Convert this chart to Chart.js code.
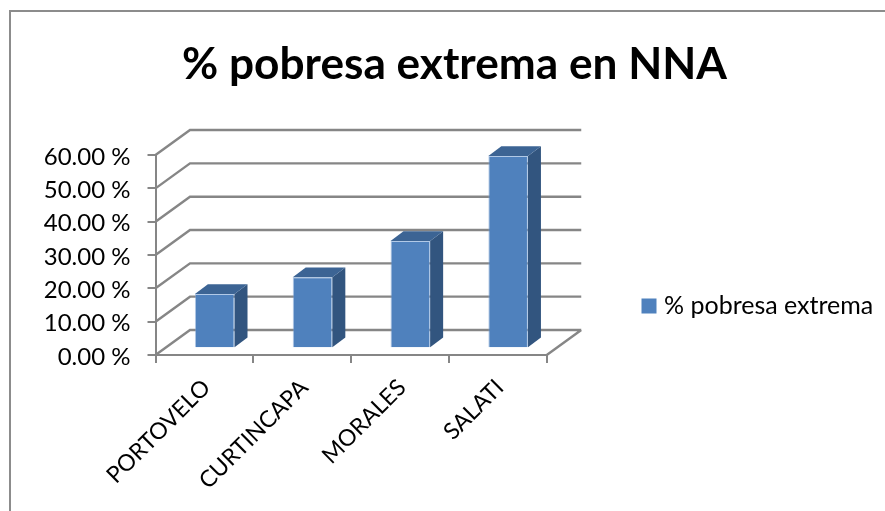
<!DOCTYPE html>
<html><head><meta charset="utf-8">
<style>html,body{margin:0;padding:0;background:#fff}canvas{display:block}</style>
<script src="https://cdn.jsdelivr.net/npm/chart.js@4"></script>
</head><body><canvas id="c" width="885" height="511"></canvas>
<script>
const categories = ["PORTOVELO", "CURTINCAPA", "MORALES", "SALATI"];
const seriesName = "% pobresa extrema";
const seriesValues = [16.3, 21.3, 32.2, 57.7];
const chartTitle = "% pobresa extrema en NNA";
const yMin = 0, yMax = 60, yStep = 10;

const GRID = "#868686";
const DEPTH = {x: 34.5, y: -25};
const BAR_SHIFT = {x: 10.3, y: -6.7};
const BAR_DEPTH = {x: 13, y: -9.7};

const scene3d = {
  id: "scene3d",
  beforeDraw(chart) {
    const c = chart.ctx;
    c.save();
    c.fillStyle = "#fff"; c.fillRect(0, 0, chart.width, chart.height);
    c.strokeStyle = "#8c8c8c"; c.lineWidth = 2;
    c.beginPath(); c.moveTo(10, chart.height); c.lineTo(10, 11); c.lineTo(chart.width, 11); c.stroke();
    c.restore();
  },
  afterLayout(chart) {
    const l = chart.legend;
    l.top = 283.5; l.bottom = l.top + 60;
    l.left = 636.5; l.right = chart.width;
    l.adjustHitBoxes();
    chart.titleBlock.left = 24; chart.titleBlock.right = chart.width;
  },
  beforeDatasetsDraw(chart) {
    const c = chart.ctx, xs = chart.scales.x, ys = chart.scales.y;
    const L = xs.left, R = xs.right, B = ys.bottom;
    c.save();
    c.strokeStyle = GRID; c.lineWidth = 2.4; c.lineCap = "butt";
    c.beginPath();
    ys.ticks.forEach(t => {
      const y = ys.getPixelForValue(t.value);
      c.moveTo(L, y); c.lineTo(L + DEPTH.x, y + DEPTH.y); c.lineTo(R + DEPTH.x, y + DEPTH.y);
    });
    c.moveTo(R, B); c.lineTo(R + DEPTH.x, B + DEPTH.y);
    c.stroke();
    const els = chart.getDatasetMeta(0).data;
    c.translate(BAR_SHIFT.x, BAR_SHIFT.y);
    els.forEach(e => {
      const l = e.x - e.width / 2, r = e.x + e.width / 2, t = e.y, b = e.base;
      c.fillStyle = "#32557F";
      c.beginPath(); c.moveTo(r, t); c.lineTo(r + BAR_DEPTH.x, t + BAR_DEPTH.y);
      c.lineTo(r + BAR_DEPTH.x, b + BAR_DEPTH.y); c.lineTo(r, b); c.closePath(); c.fill();
      c.fillStyle = "#3C6494";
      c.beginPath(); c.moveTo(l, t); c.lineTo(l + BAR_DEPTH.x, t + BAR_DEPTH.y);
      c.lineTo(r + BAR_DEPTH.x, t + BAR_DEPTH.y); c.lineTo(r, t); c.closePath(); c.fill();
    });
  },
  afterDatasetsDraw(chart) { chart.ctx.restore(); }
};

new Chart(document.getElementById("c"), {
  type: "bar",
  data: {
    labels: categories,
    datasets: [{
      label: seriesName,
      data: seriesValues,
      backgroundColor: "#4F81BD",
      borderColor: "rgba(125,165,215,0.6)",
      borderWidth: 1,
      categoryPercentage: 1,
      barPercentage: 0.405
    }]
  },
  plugins: [scene3d],
  options: {
    responsive: false,
    animation: false,
    events: [],
    layout: {padding: {left: 0, top: 38, right: 156, bottom: 0}},
    plugins: {
      tooltip: {enabled: false},
      title: {
        display: true, text: chartTitle, color: "#000",
        font: {family: "Lato", size: 44.2, weight: "bold"},
        padding: {top: 0, bottom: 64}
      },
      legend: {
        display: true, position: "right", align: "start",
        labels: {color: "#000", boxWidth: 5, boxHeight: 5, padding: 10,
                 font: {family: "Lato", size: 25},
                 generateLabels(chart) {
                   return Chart.defaults.plugins.legend.labels.generateLabels(chart).map(i =>
                     Object.assign(i, {strokeStyle: i.fillStyle, lineWidth: 10}));
                 }}
      }
    },
    scales: {
      x: {
        afterFit(s) { s.height = 156; },
        grid: {drawOnChartArea: false, color: GRID, lineWidth: 2, tickLength: 8},
        border: {color: GRID, width: 2},
        ticks: {color: "#000", font: {family: "Lato", size: 23}, minRotation: 45, maxRotation: 45, autoSkip: false, padding: 11, labelOffset: 2}
      },
      y: {
        min: yMin, max: yMax,
        afterFit(s) { s.width = 155.5; },
        grid: {drawOnChartArea: false, color: GRID, lineWidth: 2, tickLength: 8},
        border: {color: GRID, width: 2},
        ticks: {stepSize: yStep, color: "#000", padding: 17, labelOffset: 2, font: {family: "Lato", size: 24},
                callback: v => v.toFixed(2) + " %"}
      }
    }
  }
});
</script></body></html>
